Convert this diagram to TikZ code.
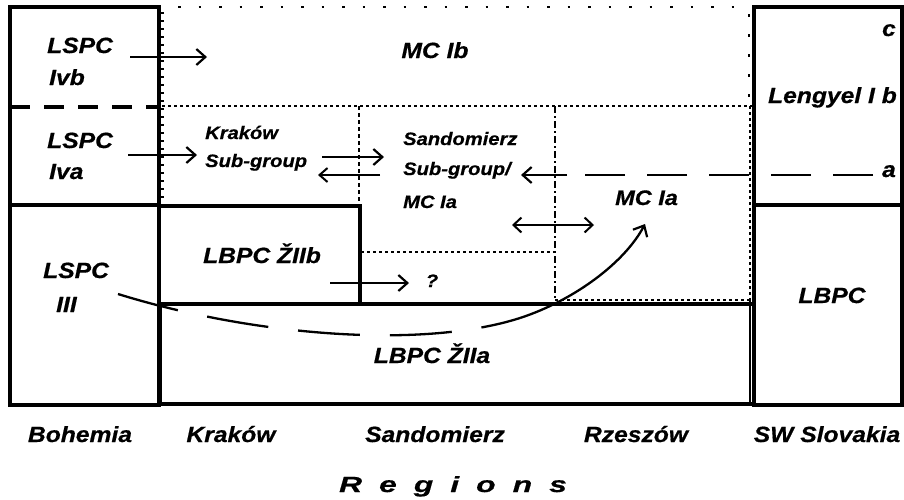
\documentclass[tikz,border=0pt]{standalone}
\usepackage{fontspec}
\setmainfont{Liberation Sans}[FakeStretch=1.12, BoldItalicFeatures={FakeBold=0.6}]
\newfontfamily\widefont{Liberation Sans}[FakeStretch=1.45, BoldItalicFeatures={FakeBold=0.6}]
\usetikzlibrary{arrows.meta}
\begin{document}
\begin{tikzpicture}[x=1pt,y=-1pt,
  big/.style={font=\fontsize{22}{26}\selectfont\bfseries\itshape, inner sep=0pt},
  small/.style={font=\fontsize{18}{22}\selectfont\bfseries\itshape, inner sep=0pt},
  frame/.style={line width=3.5pt, line cap=rect},
  dots/.style={line width=2.8pt, dash pattern=on 3pt off 3pt},
  sparse/.style={line width=2.8pt, dash pattern=on 2.5pt off 18pt},
  tip/.style={-{Straight Barb[length=9pt,width=16pt,line width=2.2pt]}},
  arr/.style={line width=2.4pt, tip},
  thinarr/.style={line width=1.8pt, -{Straight Barb[length=8pt,width=14pt,line width=2pt]}},
  dbl/.style={line width=2.2pt, {Straight Barb[length=8pt,width=15pt,line width=2pt]}-{Straight Barb[length=8pt,width=15pt,line width=2pt]}}]
\useasboundingbox (0,0) rectangle (904,499);
% ---- boxes ----
\draw[frame] (10,7) rectangle (159,405);
\draw[line width=4.5pt] (10,205) -- (160,205);
\draw[line width=3.2pt, dash pattern=on 20pt off 14pt] (10,107) -- (158,107);
\draw[frame] (160,206) -- (360,206) -- (360,304);
\draw[frame] (160,304) rectangle (754,404);
\draw[frame] (754,7) rectangle (902,405);
\draw[frame] (754,205) -- (902,205);
% ---- dotted boundaries ----
\draw[sparse] (178,7) -- (748,7);
\draw[dots] (162,106) -- (752,106);
\draw[line width=1.8pt] (160,7) -- (160,205);
\draw[line width=2.2pt, dash pattern=on 2pt off 6pt] (162.5,12) -- (162.5,205);
\draw[line width=2.8pt, dash pattern=on 4pt off 3pt] (359,106) -- (359,206);
\draw[dots] (361,252) -- (555,252);
\draw[line width=2.4pt, dash pattern=on 7pt off 3pt on 2pt off 3pt] (555,106) -- (555,300);
\draw[dots] (555,300) -- (752,300);
\draw[line width=2.4pt, dash pattern=on 3pt off 17pt] (749,14) -- (749,106);
\draw[dots] (750,106) -- (750,300);
\draw[line width=2.2pt] (750,300) -- (750,405);
% ---- arrow end points ----
\coordinate (a1s) at (130,57);  \coordinate (a1e) at (207,57);
\coordinate (a2s) at (128,155); \coordinate (a2e) at (197,155);
\coordinate (a3s) at (322,157); \coordinate (a3e) at (384,157);
\coordinate (a4s) at (380,175); \coordinate (a4e) at (318,175);
\coordinate (a5s) at (567,175); \coordinate (a5e) at (521,175);
\coordinate (d1s) at (873,175); \coordinate (d1e) at (585,175);
\coordinate (a6s) at (512,225); \coordinate (a6e) at (594,225);
\coordinate (a7s) at (330,283); \coordinate (a7e) at (409,283);
\coordinate (c0) at (118,294);  \coordinate (cm) at (520,318); \coordinate (c1) at (645,224);
% ---- arrows ----
\draw[arr] (a1s) -- (a1e);
\draw[arr] (a2s) -- (a2e);
\draw[arr] (a3s) -- (a3e);
\draw[thinarr] (a4s) -- (a4e);
\draw[arr] (a5s) -- (a5e);
\draw[line width=2.4pt, dash pattern=on 40pt off 22pt] (d1s) -- (d1e);
\draw[dbl] (a6s) -- (a6e);
\draw[arr] (a7s) -- (a7e);
\draw[line width=2.3pt, dash pattern=on 62pt off 30pt] (c0) .. controls (250,335) and (420,350) .. (cm);
\draw[line width=2.3pt, tip] (cm) .. controls (575,300) and (625,262) .. (c1);
% ---- texts ----
\node[big, anchor=base west] (t1) at (47,53) {LSPC};
\node[big, anchor=base west] (t2) at (49,85) {Ivb};
\node[big, anchor=base west] (t3) at (47,148) {LSPC};
\node[big, anchor=base west] (t4) at (49,179) {Iva};
\node[big, anchor=base] (t5) at (435,58) {MC Ib};
\node[small, anchor=base west] (t6) at (205,139) {Kraków};
\node[small, anchor=base west] (t7) at (205,167) {Sub-group};
\node[small, anchor=base west] (t8) at (403,145) {Sandomierz};
\node[small, anchor=base west] (t9) at (403,175) {Sub-group/};
\node[small, anchor=base west] (t10) at (403,208) {MC Ia};
\node[big, anchor=base west, font=\fontsize{21}{25}\selectfont\bfseries\itshape] (t11) at (615,205) {MC Ia};
\node[big, anchor=base west] (t12) at (203,263) {LBPC ŽIIb};
\node[small, anchor=base] (t13) at (432,287) {?};
\node[big, anchor=base west] (t14) at (43,278) {LSPC};
\node[big, anchor=base west] (t15) at (56,312) {III};
\node[big, anchor=base] (t16) at (432,363) {LBPC ŽIIa};
\node[big, anchor=base] (t17) at (832,303) {LBPC};
\node[big, anchor=base east] (t18) at (896,36) {c};
\node[big, anchor=base east] (t19) at (897,103) {Lengyel I b};
\node[big, anchor=base east] (t20) at (896,177) {a};
\node[big, anchor=base] (r1) at (80,442) {Bohemia};
\node[big, anchor=base] (r2) at (231,442) {Kraków};
\node[big, anchor=base] (r3) at (435,442) {Sandomierz};
\node[big, anchor=base] (r4) at (636,442) {Rzeszów};
\node[big, anchor=base] (r5) at (827,442) {SW Slovakia};
\node[big, anchor=base, font=\fontsize{22}{26}\selectfont\widefont\bfseries\itshape] (rg) at (453,492) {R\kern17pt e\kern17pt g\kern17pt i\kern17pt o\kern17pt n\kern17pt s};
\end{tikzpicture}
\end{document}
